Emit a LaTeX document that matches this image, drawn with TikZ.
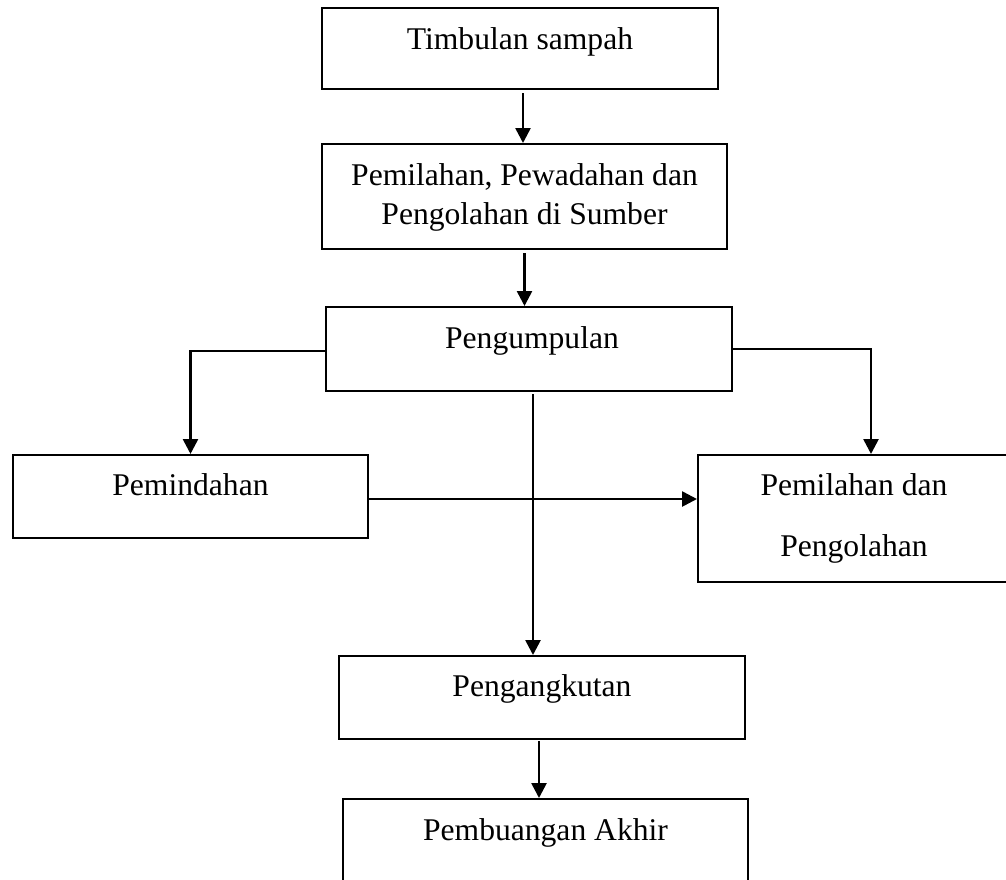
\documentclass[tikz,border=0pt]{standalone}
\usepackage{fontspec}
\setmainfont{Liberation Serif}
\usetikzlibrary{arrows.meta}
\begin{document}
\begin{tikzpicture}[x=0.5pt,y=-0.5pt,
  kotak/.style={draw,line width=1pt,inner sep=0pt},
  teks/.style={anchor=base,align=center,inner sep=0pt,
    font=\fontsize{15.8pt}{19.5pt}\selectfont},
  panah/.style={draw,line width=1.3pt,-{Triangle[length=7.5pt,width=7.5pt]}}]
  \clip (0,0) rectangle (1006,879);
  \node[kotak,minimum width=198pt,minimum height=40.5pt] (timbulan) at (520,48.5) {};
  \node[kotak,minimum width=202.5pt,minimum height=52.5pt] (sumber) at (524.5,196.5) {};
  \node[kotak,minimum width=203pt,minimum height=42pt] (kumpul) at (529,349) {};
  \node[kotak,minimum width=177.5pt,minimum height=41.5pt] (pindah) at (190.5,496.5) {};
  \node[kotak,minimum width=156pt,minimum height=63.5pt] (pilah) at (854,518.5) {};
  \node[kotak,minimum width=203pt,minimum height=41.5pt] (angkut) at (542,697.5) {};
  \node[kotak,minimum width=202.5pt,minimum height=100pt] (buang) at (545.5,899) {};
  \node[teks] at (520,49) {Timbulan sampah};
  \node[teks] at (524.5,185) {Pemilahan, Pewadahan dan};
  \node[teks] at (524.5,224) {Pengolahan di Sumber};
  \node[teks] at (532,348) {Pengumpulan};
  \node[teks] at (190.5,495) {Pemindahan};
  \node[teks] at (854,495) {Pemilahan dan};
  \node[teks] at (854,556) {Pengolahan};
  \node[teks] at (542,696) {Pengangkutan};
  \node[teks] at (545.5,840) {Pembuangan Akhir};
  \draw[panah] ([xshift=1.5pt,yshift=-1.5pt]timbulan.south)
    -- ([xshift=1.5pt]timbulan.south |- sumber.north);
  \draw[panah] ([yshift=-1.5pt]sumber.south) -- (sumber.south |- kumpul.north);
  \draw[panah] ([yshift=-1pt]kumpul.west) -| (pindah.north);
  \draw[panah] (kumpul.east) -| ([xshift=8.5pt]pilah.north);
  \draw[panah] ([xshift=2pt,yshift=-1pt]kumpul.south)
    -- ([xshift=2pt]kumpul.south |- angkut.north);
  \draw[panah] ([yshift=-1.25pt]pindah.east)
    -- ([yshift=-1.25pt]pilah.west |- pindah.east);
  \draw[panah] ([xshift=-1.5pt,yshift=-0.5pt]angkut.south)
    -- ([xshift=-1.5pt]angkut.south |- buang.north);
\end{tikzpicture}
\end{document}
